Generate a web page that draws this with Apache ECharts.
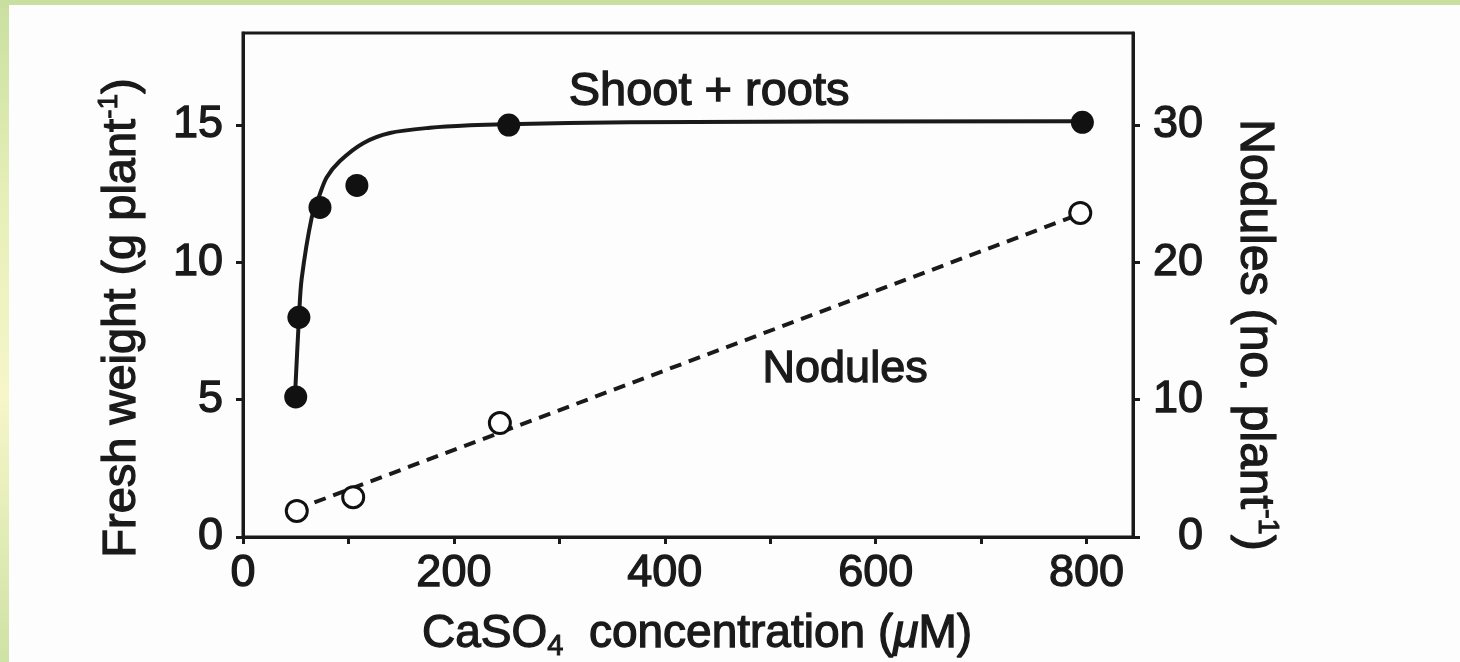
<!DOCTYPE html>
<html><head><meta charset="utf-8">
<script src="https://cdn.jsdelivr.net/npm/echarts@6/dist/echarts.min.js"></script>
<style>
html,body{margin:0;padding:0;width:1460px;height:662px;overflow:hidden;}
body{background:linear-gradient(to bottom,#c9df9f 0%,#e6efb8 30%,#f6f6c9 60%,#cfe2a5 100%);position:relative;}
#panel{position:absolute;left:9px;top:5px;right:0;bottom:0;background:#fdfdfd;}
#chart{position:absolute;left:0;top:0;width:1460px;height:662px;}
</style></head><body><div id="panel"></div><div id="chart"></div>
<script>
// ---- data ----
const shootPtsX = [50, 53, 73, 108, 252, 796];
const shootPtsY = [5.1, 8.0, 12.0, 12.8, 15.0, 15.1];
// fitted curve drawn through the figure
const shootCurveX = [49.3, 53.1, 55.6, 65.1, 72.3, 79.3, 91.9, 114, 139.3, 177.3, 215.2, 250, 366.8, 796];
const shootCurveY = [5.13, 8.01, 9.39, 11.62, 12.42, 13.09, 13.69, 14.34, 14.71, 14.90, 14.99, 15.03, 15.10, 15.14];
const nodPtsX = [51, 104.5, 243.6, 794];
const nodPtsY = [1.9, 2.9, 8.3, 23.6];
// regression line for nodules
const nodLineX = [50, 800];
const nodLineY = [2.0, 23.7];
const xTicks = [0, 100, 200, 300, 400, 500, 600, 700, 800];
const xLabels = [0, 200, 400, 600, 800];
const yLeftTicks = [0, 5, 10, 15];
const yRightTicks = [0, 10, 20, 30];

const zip = (a, b) => a.map((v, i) => [v, b[i]]);
const FONT = '"Liberation Sans", Arial, Helvetica, sans-serif';
const INK = '#1a1a1a';
const FS = 45;
const thick = {textBorderColor: INK, textBorderWidth: 1.3};

const chart = echarts.init(document.getElementById('chart'), null, {renderer: 'canvas'});
const axisCommon = {
  axisLine: {show: true, lineStyle: {color: INK, width: 3}},
  splitLine: {show: false},
  axisLabel: {color: INK, fontSize: FS, fontFamily: FONT, ...thick},
};
const richMain = (fs) => ({fontSize: fs, fontFamily: FONT, fill: INK, lineHeight: 54, stroke: INK, lineWidth: 1.3});
chart.setOption({
  animation: false,
  backgroundColor: 'transparent',
  grid: {left: 243, right: 327, top: 33, bottom: 125, show: true, borderColor: INK, borderWidth: 3, backgroundColor: 'transparent'},
  xAxis: {
    type: 'value', min: 0, max: 844,
    ...axisCommon,
    axisTick: {show: true, length: 7, lineStyle: {color: INK, width: 3}, customValues: xTicks},
    axisLabel: {...axisCommon.axisLabel, margin: 14, customValues: xLabels}
  },
  yAxis: [{
    type: 'value', min: 0, max: 18.35, position: 'left',
    ...axisCommon,
    axisTick: {show: true, length: 7, lineStyle: {color: INK, width: 3}, customValues: yLeftTicks},
    axisLabel: {...axisCommon.axisLabel, margin: 20, customValues: yLeftTicks}
  }, {
    type: 'value', min: 0, max: 36.7, position: 'right',
    ...axisCommon,
    axisTick: {show: true, length: 7, lineStyle: {color: INK, width: 3}, customValues: yRightTicks},
    axisLabel: {...axisCommon.axisLabel, margin: 70, align: 'right', customValues: yRightTicks}
  }],
  series: [
    {type: 'line', data: zip(shootCurveX, shootCurveY), smooth: 0.3, symbol: 'none',
     lineStyle: {color: INK, width: 4}, z: 2},
    {type: 'scatter', data: zip(shootPtsX, shootPtsY), symbol: 'circle', symbolSize: 23,
     itemStyle: {color: '#111111', opacity: 1}, z: 4},
    {type: 'line', yAxisIndex: 1, data: zip(nodLineX, nodLineY), symbol: 'none',
     lineStyle: {color: INK, width: 4, type: [12, 8]}, z: 2},
    {type: 'scatter', yAxisIndex: 1, data: zip(nodPtsX, nodPtsY), symbol: 'circle', symbolSize: 21,
     itemStyle: {color: '#ffffff', borderColor: '#111111', borderWidth: 3, opacity: 1}, z: 4},
    {type: 'scatter', symbolSize: 1, itemStyle: {color: 'rgba(0,0,0,0)', opacity: 1}, z: 5,
     label: {show: true, position: 'inside', formatter: p => p.name, color: INK, fontSize: FS, fontFamily: FONT, ...thick},
     data: [
       {name: 'Shoot + roots', value: [442, 16.2], label: {fontSize: 47}},
       {name: 'Nodules', value: [571, 6.1]}
     ]}
  ],
  graphic: [
    {type: 'text', x: 122, y: 318, rotation: Math.PI / 2,
     style: {text: '{a|Fresh weight (g plant}{s|-1}{a|)}', align: 'center', verticalAlign: 'middle',
       rich: {a: richMain(47),
              s: {fontSize: 28, fontFamily: FONT, fill: INK, lineHeight: 32, verticalAlign: 'top', stroke: INK, lineWidth: 1}}}},
    {type: 'text', x: 1254, y: 335, rotation: -Math.PI / 2,
     style: {text: '{a|Nodules (no. plant}{s|-1}{a|)}', align: 'center', verticalAlign: 'middle',
       rich: {a: richMain(48),
              s: {fontSize: 29, fontFamily: FONT, fill: INK, lineHeight: 32, verticalAlign: 'top', stroke: INK, lineWidth: 1}}}},
    {type: 'text', x: 697, y: 634,
     style: {text: '{a|CaSO}{b|4}{a|  concentration (}{m|μ}{a|M)}', align: 'center', verticalAlign: 'middle',
       rich: {a: richMain(46),
              m: {fontSize: 46, fontFamily: FONT, fill: INK, lineHeight: 54, fontStyle: 'italic', stroke: INK, lineWidth: 1.3},
              b: {fontSize: 29, fontFamily: FONT, fill: INK, lineHeight: 30, verticalAlign: 'bottom', stroke: INK, lineWidth: 1}}}}
  ]
});
</script></body></html>
